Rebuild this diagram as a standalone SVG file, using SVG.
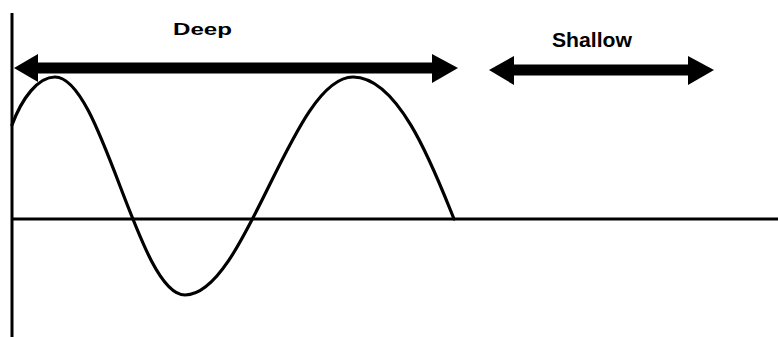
<svg xmlns="http://www.w3.org/2000/svg" width="778" height="337" viewBox="0 0 778 337">
<style>
.axis{stroke:#000;stroke-width:3;fill:none}
.wave{stroke:#000;stroke-width:3.2;fill:none;stroke-linecap:round}
.shaft{stroke:#000;stroke-width:11;fill:none}
.head{fill:#000}
.lbl{font-family:"Liberation Sans",Arial,sans-serif;font-weight:bold;fill:#000}
</style>
<rect width="778" height="337" fill="#fff"/>
<g id="axes">
<line class="axis" x1="12" y1="13" x2="12" y2="337"/>
<line class="axis" x1="12" y1="219" x2="778" y2="219"/>
</g>
<g id="wave">
<path class="wave" d="M12,125 C22,98 38,77 55,77 C102,77 138,295 185,295 C246,295 292,77 353,77 C400,77 435,172 454,219"/>
</g>
<g id="connectors">
<g id="deep-arrow">
<line class="shaft" x1="30" y1="68" x2="440" y2="68"/>
<polygon class="head" points="14,68 38,54 38,82"/>
<polygon class="head" points="458,68 432,54 432,83"/>
</g>
<g id="shallow-arrow">
<line class="shaft" x1="505" y1="70" x2="698" y2="70"/>
<polygon class="head" points="489,70 514,56 514,85"/>
<polygon class="head" points="714,70 688,56 688,85"/>
</g>
</g>
<g id="label-deep">
<text class="lbl" x="173" y="35" font-size="17" textLength="59" lengthAdjust="spacingAndGlyphs">Deep</text>
</g>
<g id="label-shallow">
<text class="lbl" x="552" y="47" font-size="21" textLength="80" lengthAdjust="spacingAndGlyphs">Shallow</text>
</g>
</svg>
